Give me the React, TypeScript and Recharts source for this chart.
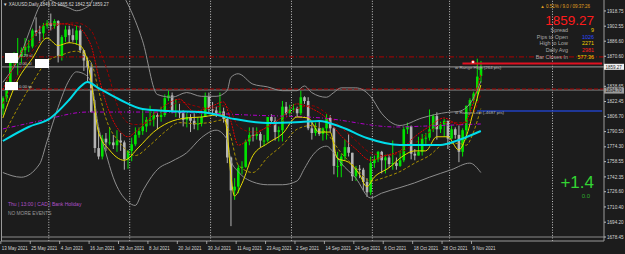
import React from 'react';
import { ComposedChart, Bar, Line, XAxis, YAxis, ReferenceLine } from 'recharts';

// ---------- categories ----------
const dates = [
  '13 May 2021','14 May 2021','17 May 2021','18 May 2021','19 May 2021','20 May 2021','21 May 2021','24 May 2021','25 May 2021','26 May 2021','27 May 2021','28 May 2021','31 May 2021',
  '1 Jun 2021','2 Jun 2021','3 Jun 2021','4 Jun 2021','7 Jun 2021','8 Jun 2021','9 Jun 2021','10 Jun 2021','11 Jun 2021','14 Jun 2021','15 Jun 2021','16 Jun 2021','17 Jun 2021','18 Jun 2021','21 Jun 2021','22 Jun 2021','23 Jun 2021','24 Jun 2021','25 Jun 2021','28 Jun 2021','29 Jun 2021','30 Jun 2021',
  '1 Jul 2021','2 Jul 2021','5 Jul 2021','6 Jul 2021','7 Jul 2021','8 Jul 2021','9 Jul 2021','12 Jul 2021','13 Jul 2021','14 Jul 2021','15 Jul 2021','16 Jul 2021','19 Jul 2021','20 Jul 2021','21 Jul 2021','22 Jul 2021','23 Jul 2021','26 Jul 2021','27 Jul 2021','28 Jul 2021','29 Jul 2021','30 Jul 2021',
  '2 Aug 2021','3 Aug 2021','4 Aug 2021','5 Aug 2021','6 Aug 2021','9 Aug 2021','10 Aug 2021','11 Aug 2021','12 Aug 2021','13 Aug 2021','16 Aug 2021','17 Aug 2021','18 Aug 2021','19 Aug 2021','20 Aug 2021','23 Aug 2021','24 Aug 2021','25 Aug 2021','26 Aug 2021','27 Aug 2021','30 Aug 2021','31 Aug 2021',
  '1 Sep 2021','2 Sep 2021','3 Sep 2021','6 Sep 2021','7 Sep 2021','8 Sep 2021','9 Sep 2021','10 Sep 2021','13 Sep 2021','14 Sep 2021','15 Sep 2021','16 Sep 2021','17 Sep 2021','20 Sep 2021','21 Sep 2021','22 Sep 2021','23 Sep 2021','24 Sep 2021','27 Sep 2021','28 Sep 2021','29 Sep 2021','30 Sep 2021',
  '1 Oct 2021','4 Oct 2021','5 Oct 2021','6 Oct 2021','7 Oct 2021','8 Oct 2021','11 Oct 2021','12 Oct 2021','13 Oct 2021','14 Oct 2021','15 Oct 2021','18 Oct 2021','19 Oct 2021','20 Oct 2021','21 Oct 2021','22 Oct 2021','25 Oct 2021','26 Oct 2021','27 Oct 2021','28 Oct 2021','29 Oct 2021',
  '1 Nov 2021','2 Nov 2021','3 Nov 2021','4 Nov 2021','5 Nov 2021','8 Nov 2021','9 Nov 2021','10 Nov 2021','11 Nov 2021'
];
const futureSlots = ['f1','f2','f3','f4','f5','f6','f7','f8','f9','f10','f11','f12','f13','f14','f15','f16','f17','f18','f19','f20','f21','f22','f23','f24','f25','f26','f27','f28','f29','f30','f31','f32','f33'];
const xTickLabels = ['13 May 2021','25 May 2021','4 Jun 2021','16 Jun 2021','28 Jun 2021','8 Jul 2021','20 Jul 2021','30 Jul 2021','11 Aug 2021','23 Aug 2021','2 Sep 2021','14 Sep 2021','24 Sep 2021','6 Oct 2021','18 Oct 2021','28 Oct 2021','9 Nov 2021'];
const separatorBars = ['1 Jun 2021','1 Jul 2021','2 Aug 2021','1 Sep 2021','1 Oct 2021','1 Nov 2021','f20'];
const yTicks = [1918.75,1902.55,1886.60,1870.60,1838.65,1822.45,1806.70,1790.50,1774.30,1758.55,1742.35,1726.60,1710.40,1694.20,1678.45];

// ---------- OHLC ----------
const opens = [1815,1826,1843,1867,1869,1870,1877,1881,1881,1898,1896,1895,1903,1906,1903,1908,1871,1891,1899,1893,1888,1898,1877,1866,1859,1811,1773,1764,1783,1779,1779,1776,1781,1779,1761,1770,1777,1787,1791,1796,1803,1803,1808,1806,1808,1826,1829,1812,1812,1810,1803,1806,1802,1798,1799,1806,1828,1814,1813,1810,1812,1804,1763,1728,1732,1752,1753,1780,1787,1786,1788,1781,1781,1806,1802,1790,1792,1817,1810,1814,1815,1810,1827,1823,1794,1789,1794,1788,1794,1805,1794,1754,1754,1764,1774,1768,1743,1751,1750,1737,1726,1757,1761,1769,1760,1763,1756,1757,1754,1760,1793,1796,1767,1765,1769,1783,1784,1793,1807,1793,1798,1802,1783,1793,1787,1769,1792,1818,1824,1831,1849.61];
const highs = [1828,1845,1869,1875,1890,1880,1890,1888,1900,1912,1903,1906,1909,1916,1910,1909,1893,1903,1903,1900,1903,1903,1877,1870,1864,1824,1795,1787,1789,1795,1787,1792,1789,1781,1771,1784,1795,1795,1815,1806,1818,1812,1810,1817,1830,1834,1832,1825,1820,1813,1810,1809,1810,1806,1810,1832,1832,1822,1817,1832,1816,1806,1764,1741,1755,1759,1782,1795,1795,1795,1790,1787,1806,1809,1806,1796,1823,1822,1819,1820,1817,1834,1828,1827,1801,1800,1801,1795,1809,1808,1795,1769,1767,1782,1788,1768,1754,1755,1752,1741,1764,1765,1770,1770,1766,1766,1781,1763,1770,1796,1800,1797,1772,1785,1788,1789,1814,1809,1811,1801,1804,1802,1797,1795,1797,1794,1818,1826,1833,1868,1865.62];
const lows = [1808,1822,1841,1860,1850,1863,1871,1875,1879,1892,1885,1889,1900,1898,1900,1864,1866,1886,1885,1886,1883,1874,1855,1844,1811,1768,1761,1761,1770,1776,1772,1769,1770,1750,1751,1759,1775,1784,1787,1790,1797,1796,1793,1801,1806,1823,1810,1806,1805,1796,1795,1790,1793,1792,1796,1806,1810,1808,1806,1807,1800,1757,1690,1718,1725,1745,1752,1776,1780,1782,1774,1775,1779,1799,1781,1780,1780,1808,1806,1811,1806,1808,1820,1792,1782,1786,1786,1781,1782,1790,1745,1742,1742,1760,1764,1738,1738,1741,1728,1721,1723,1752,1758,1746,1746,1752,1750,1750,1753,1758,1788,1761,1760,1765,1765,1775,1781,1790,1782,1789,1785,1772,1783,1783,1758,1764,1782,1812,1820,1823,1842.51];
const closes = [1826,1843,1867,1869,1870,1877,1881,1881,1898,1896,1895,1903,1906,1903,1908,1871,1891,1899,1893,1888,1898,1877,1866,1859,1811,1773,1764,1783,1779,1779,1776,1781,1779,1761,1770,1777,1787,1791,1796,1803,1803,1808,1806,1808,1826,1829,1812,1812,1810,1803,1806,1802,1798,1799,1806,1828,1814,1813,1810,1812,1804,1763,1728,1732,1752,1753,1780,1787,1786,1788,1781,1781,1806,1802,1790,1792,1817,1810,1814,1815,1810,1827,1823,1794,1789,1794,1788,1794,1805,1794,1754,1754,1764,1774,1768,1743,1751,1750,1737,1726,1757,1761,1769,1760,1763,1756,1757,1754,1760,1793,1796,1767,1765,1769,1783,1784,1793,1807,1793,1798,1802,1783,1793,1787,1769,1792,1818,1824,1831,1849,1859.27];

// ---------- indicator readings [bar index, price] ----------
const cyanPts: [number, number][] = [[0,1780.5],[7,1795.4],[13,1805],[18,1824.1],[21,1837.9],[23,1843.2],[26,1836.8],[32,1824.1],[38,1814.5],[45,1812.4],[54,1811.3],[63,1803.9],[72,1799.6],[81,1800.7],[86,1801.8],[92,1795.4],[99,1783.7],[108,1776.3],[119,1776.3],[124,1781.6],[130,1791.1]];
const magentaPts: [number, number][] = [[0,1793.3],[10,1801.8],[23,1811.3],[37,1811.3],[54,1810.3],[67,1808.1],[87,1804.9],[107,1795.4],[115,1796.4],[130,1798.6]];
const fastLowPts: [number, number][] = [[0,1805],[4,1845],[8,1868],[12,1890],[15,1882],[18,1885],[21,1882],[23,1865],[24,1845],[25,1815],[26,1790],[29,1771],[33,1760],[37,1774],[41,1790],[45,1800],[50,1805],[54,1806],[58,1808],[60,1808],[61,1790],[62,1745],[63,1722],[65,1735],[68,1765],[72,1778],[76,1788],[80,1806],[83,1805],[86,1790],[89,1790],[91,1762],[94,1758],[97,1745],[99,1732],[101,1742],[105,1752],[109,1765],[112,1770],[115,1770],[118,1785],[121,1785],[124,1771],[126,1785],[128,1812],[130,1840]];
const slowLowPts: [number, number][] = [[0,1785],[4,1815],[8,1842],[12,1865],[16,1872],[20,1876],[24,1864],[26,1835],[28,1805],[32,1778],[36,1765],[40,1776],[44,1790],[48,1800],[52,1799],[56,1800],[60,1803],[62,1785],[64,1755],[68,1747],[72,1763],[76,1776],[80,1793],[84,1797],[88,1789],[92,1768],[96,1752],[100,1738],[104,1742],[108,1748],[112,1757],[116,1765],[120,1777],[124,1778],[126,1776],[128,1790],[130,1815]];
const fastHighPts: [number, number][] = [[0,1835],[4,1868],[8,1890],[12,1905],[16,1905],[20,1903],[23,1890],[24,1882],[26,1850],[28,1822],[32,1790],[34,1785],[36,1790],[40,1805],[44,1818],[48,1825],[52,1812],[56,1816],[60,1822],[62,1802],[64,1776],[68,1786],[72,1796],[76,1806],[80,1820],[84,1815],[88,1805],[92,1786],[96,1772],[100,1760],[104,1765],[108,1770],[112,1785],[116,1796],[120,1805],[124,1798],[126,1802],[128,1822],[130,1852]];
const slowHighPts: [number, number][] = [[0,1820],[4,1850],[8,1876],[12,1895],[16,1905],[20,1906],[24,1898],[26,1880],[28,1860],[32,1810],[34,1800],[36,1798],[40,1801],[44,1812],[48,1822],[52,1818],[56,1815],[60,1818],[62,1812],[64,1796],[68,1790],[72,1795],[76,1802],[80,1815],[84,1818],[88,1810],[92,1795],[96,1781],[100,1768],[104,1765],[108,1768],[112,1778],[116,1790],[120,1800],[124,1800],[126,1800],[128,1810],[130,1830]];
const upperBandPts: [number, number][] = [[0,1843],[5,1874],[8,1905],[10,1924],[12,1931],[15,1926],[18,1922],[20,1919],[22,1921],[24,1927],[26,1956],[30,1950],[34,1926],[38,1887],[42,1830],[46,1827],[50,1832],[54,1828],[58,1828],[61,1834],[62,1848],[64,1852],[68,1841],[72,1838],[76,1834],[80,1834],[82,1839],[84,1832],[88,1827],[90,1832],[92,1837],[96,1837],[100,1828],[103,1810],[108,1797],[114,1805],[121,1811],[124,1812],[128,1826],[130,1844]];
const lowerBandPts: [number, number][] = [[0,1747],[5,1742],[10,1756],[12,1780],[15,1816],[18,1845],[20,1854],[22,1852],[24,1843],[26,1796],[28,1768],[30,1742],[34,1716],[36,1712],[38,1727],[42,1750],[46,1759],[50,1768],[54,1784],[58,1792],[61,1782],[62,1760],[64,1748],[68,1737],[72,1734],[76,1734],[80,1738],[82,1751],[84,1764],[88,1775],[90,1768],[92,1757],[96,1741],[100,1720],[103,1725],[108,1731],[112,1736],[116,1742],[122,1750],[127,1757],[130,1747]];

// ---------- price levels ----------
const levelRedDashDot = 1869.9;
const levelRangeHigh = 1862.9;
const levelBid = 1859.27;
const levelRedDash = 1835.8;
const levelGray = 1834.7;
const levelRangeLow = 1812.4;
const levelBottom = 1678.45;
const rangeHighFrom = '4 Nov 2021';
const rangeLowFrom = '10 Nov 2021';
const lastSlot = 'f33';

const BULL = '#00e400';
const BEAR = '#b4b4b4';
const FONT = '"Liberation Sans", Arial, sans-serif';

const data: any[] = [...dates, ...futureSlots].map((d, i) => {
  const row: any = { d };
  if (i < dates.length) {
    row.o = opens[i]; row.h = highs[i]; row.l = lows[i]; row.c = closes[i];
    row.range = [lows[i], highs[i]];
  }
  return row;
});
const seriesMap: Record<string, [number, number][]> = {
  cyan: cyanPts, mag: magentaPts, y1: fastLowPts, y2: slowLowPts, r1: fastHighPts, r2: slowHighPts, bu: upperBandPts, bl: lowerBandPts,
};
Object.keys(seriesMap).forEach((k) => seriesMap[k].forEach(([i, v]) => { data[i][k] = v; }));

const Candle = (props: any) => {
  const { x, y, width, height, payload } = props;
  if (!payload || payload.o == null || !isFinite(y) || !isFinite(height)) return null;
  const { o, h, l, c } = payload;
  const top = Math.min(y, y + height);
  const hh = Math.abs(height);
  const k = h > l ? hh / (h - l) : 0;
  const cx = x + width / 2;
  const color = c >= o ? BULL : BEAR;
  const bTop = top + (h - Math.max(o, c)) * k;
  const bH = Math.max(1, Math.abs(c - o) * k);
  return (
    <g>
      <line x1={cx} x2={cx} y1={top} y2={top + hh} stroke={color} strokeWidth={1} />
      <rect x={cx - 1.3} y={bTop} width={2.6} height={bH} fill={color} />
    </g>
  );
};

const XTick = (props: any) => {
  const { x, y, payload } = props;
  return (
    <g>
      <line x1={x - 2} x2={x - 2} y1={241} y2={244} stroke="#bdbdbd" strokeWidth={0.8} />
      <text x={x - 1} y={y + 8.5} fill="#d6d6d6" fontSize={4.5} fontFamily={FONT} textAnchor="start">{payload.value}</text>
    </g>
  );
};

const lineCommon = { dot: false, activeDot: false, connectNulls: true, isAnimationActive: false, type: 'monotone' as const };

export default function App() {
  return (
    <div style={{ position: 'absolute', left: 0, top: 0, width: 625, height: 254, background: '#1c1c1c', overflow: 'hidden' }}>
      <ComposedChart width={625} height={254} data={data} margin={{ top: 0, right: 0, bottom: 0, left: 1 }} barCategoryGap={0}>
        <XAxis dataKey="d" ticks={xTickLabels} interval={0} height={13} tickLine={false} tickSize={0} tickMargin={0}
          axisLine={{ stroke: '#9a9a9a' }} tick={<XTick />} />
        <YAxis orientation="right" width={21} domain={[1674.2, 1930.4]} allowDataOverflow ticks={yTicks} interval={0}
          tickFormatter={(v: number) => v.toFixed(2)} tickSize={2} tickMargin={1}
          tick={{ fill: '#d6d6d6', fontSize: 4.6, fontFamily: FONT }} tickLine={{ stroke: '#bdbdbd' }} axisLine={{ stroke: '#9a9a9a' }} />

        {separatorBars.map((s) => (
          <ReferenceLine key={s} x={s} position="start" stroke="#d8d8d8" strokeWidth={0.9} strokeDasharray="1 1.6" />
        ))}
        <ReferenceLine y={levelBottom} stroke="#8a8a8a" strokeWidth={1} />
        <ReferenceLine y={levelRedDashDot} stroke="#b00000" strokeWidth={1} strokeDasharray="5 2 1 2" />
        <ReferenceLine y={levelBid} stroke="#9c9c9c" strokeWidth={1} />
        <ReferenceLine y={levelGray} stroke="#8c8c8c" strokeWidth={1} />
        <ReferenceLine y={levelRedDash} stroke="#a00000" strokeWidth={1} strokeDasharray="4 2" />
        <ReferenceLine segment={[{ x: rangeHighFrom, y: levelRangeHigh }, { x: lastSlot, y: levelRangeHigh }]} stroke="#e01020" strokeWidth={2} />
        <ReferenceLine segment={[{ x: rangeLowFrom, y: levelRangeLow }, { x: lastSlot, y: levelRangeLow }]} stroke="#2040c0" strokeWidth={1.5} />

        <Line dataKey="bu" stroke="#8e8e8e" strokeWidth={1} {...lineCommon} />
        <Line dataKey="bl" stroke="#8e8e8e" strokeWidth={1} {...lineCommon} />
        <Bar dataKey="range" shape={<Candle />} isAnimationActive={false} />
        <Line dataKey="mag" stroke="#b000c8" strokeWidth={1} strokeDasharray="4 2 1 2" {...lineCommon} />
        <Line dataKey="r2" stroke="#9a0000" strokeWidth={1} strokeDasharray="3 2" {...lineCommon} />
        <Line dataKey="r1" stroke="#e00000" strokeWidth={1} strokeDasharray="2 1" {...lineCommon} />
        <Line dataKey="y2" stroke="#a89000" strokeWidth={1} strokeDasharray="3 2" {...lineCommon} />
        <Line dataKey="y1" stroke="#e8dc00" strokeWidth={1} {...lineCommon} />
        <Line dataKey="cyan" stroke="#00dcea" strokeWidth={2} {...lineCommon} />
      </ComposedChart>

      <svg width={625} height={254} style={{ position: 'absolute', left: 0, top: 0, pointerEvents: 'none' }} fontFamily={FONT}>
        <line x1={1.5} x2={1.5} y1={0} y2={241} stroke="#9a9a9a" strokeWidth={1} />
        <text x={3} y={6} fill="#d8d8d8" fontSize={4.5}>▼ XAUUSD,Daily  1849.61 1865.62 1842.51 1859.27</text>

        <rect x={5} y={53} width={13} height={10} fill="#ffffff" />
        <text x={20} y={57} fill="#c8c8c8" fontSize={4.2}>0.29 sl</text>
        <rect x={35} y={59} width={14} height={9} fill="#ffffff" />
        <text x={19} y={65} fill="#c8c8c8" fontSize={4.2}>0.00 sl</text>
        <rect x={5} y={82} width={13} height={8} fill="#ffffff" />
        <text x={19} y={88} fill="#c8c8c8" fontSize={4.2}>0.00 tp</text>

        <text x={590} y={8} fill="#e0a020" fontSize={4.5} textAnchor="end">▲ 0.51% / 9.0 / 09:37:26</text>
        <text x={594} y={24.5} fill="#ff1a1a" fontSize={13.5} textAnchor="end">1859.27</text>
        <text x={568} y={32} fill="#a8a8a8" fontSize={5.4} textAnchor="end">Spread</text>
        <text x={568} y={38.5} fill="#a8a8a8" fontSize={5.4} textAnchor="end">Pips to Open</text>
        <text x={568} y={45.3} fill="#a8a8a8" fontSize={5.4} textAnchor="end">High to Low</text>
        <text x={568} y={52} fill="#a8a8a8" fontSize={5.4} textAnchor="end">Daily Avg</text>
        <text x={568} y={59} fill="#a8a8a8" fontSize={5.4} textAnchor="end">Bar Closes In</text>
        <text x={594} y={32} fill="#f0d000" fontSize={5.4} textAnchor="end">9</text>
        <text x={594} y={38.5} fill="#2c48ff" fontSize={5.4} textAnchor="end">1026</text>
        <text x={594} y={45.3} fill="#f0d000" fontSize={5.4} textAnchor="end">2271</text>
        <text x={594} y={52} fill="#ff2020" fontSize={5.4} textAnchor="end">2981</text>
        <text x={594} y={59} fill="#f0d000" fontSize={5.4} textAnchor="end">577:36</text>

        <text x={455} y={68.5} fill="#b8b8b8" fontSize={4.4}>w Range High (264 pts)</text>
        <text x={455} y={114} fill="#b8b8b8" fontSize={4.4}>w Range Low (-4687 pts)</text>
        <circle cx={473} cy={62} r={1.6} fill="#ffffff" stroke="#e02020" strokeWidth={0.8} />

        <rect x={604} y={63.8} width={20} height={6} fill="#f0f0f0" />
        <text x={605.5} y={68.5} fill="#202020" fontSize={4.5}>1859.27</text>
        <rect x={604} y={87.6} width={20} height={6} fill="#9a9a9a" />
        <text x={605.5} y={92.3} fill="#1c1c1c" fontSize={4.5}>1834.70</text>

        <text x={594} y={188} fill="#33d433" fontSize={17} textAnchor="end">+1.4</text>
        <text x={590} y={198} fill="#2ea82e" fontSize={6} textAnchor="end">0.0</text>

        <text x={8} y={206} fill="#b050c8" fontSize={5}>Thu  |  13:00  |  CAD  |  Bank Holiday</text>
        <text x={8} y={215} fill="#9a9a9a" fontSize={4.8}>NO MORE EVENTS</text>
      </svg>
    </div>
  );
}
